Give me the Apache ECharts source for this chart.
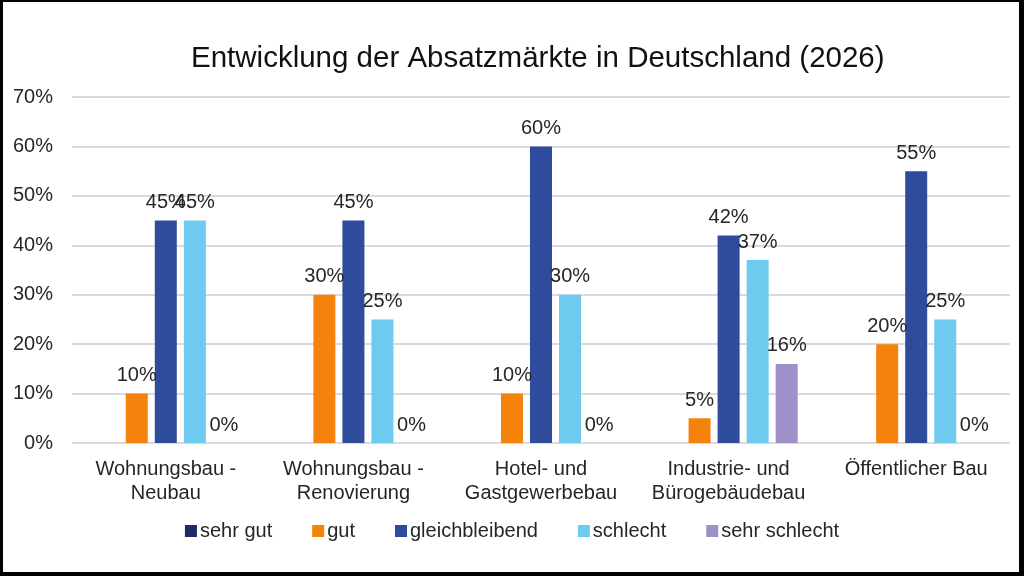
<!DOCTYPE html>
<html>
<head>
<meta charset="utf-8">
<script src="https://cdn.jsdelivr.net/npm/echarts@6/dist/echarts.min.js"></script>
<style>
    html, body { margin: 0; padding: 0; background: #fff; }
    #frame {
        width: 1024px; height: 576px; box-sizing: border-box;
        border-style: solid; border-color: #000;
        border-width: 2px 5px 4px 3px;
        position: relative;
    }
    #chart { position: absolute; left: -3px; top: -2px; width: 1024px; height: 576px; }
</style>
</head>
<body>
<div id="frame"><div id="chart"></div></div>
<script>
// Data
const categories = [
    'Wohnungsbau -\nNeubau',
    'Wohnungsbau -\nRenovierung',
    'Hotel- und\nGastgewerbebau',
    'Industrie- und\nBürogebäudebau',
    'Öffentlicher Bau'
];
const seriesNames = ['sehr gut', 'gut', 'gleichbleibend', 'schlecht', 'sehr schlecht'];
const sehrGut = [null, null, null, null, null];
const gut = [10, 30, 10, 5, 20];
const gleichbleibend = [45, 45, 60, 42, 55];
const schlecht = [45, 25, 30, 37, 25];
const sehrSchlecht = [0, 0, 0, 16, 0];
const yTicks = [0, 10, 20, 30, 40, 50, 60, 70];

const colors = ['#1F2D5E', '#F5820B', '#2F4B9B', '#6ECBEF', '#9E90C8'];
const FONT = '"Liberation Sans", Arial, sans-serif';
const TEXT = '#262626';

function makeSeries(name, data, color) {
    return {
        name: name,
        type: 'bar',
        data: data,
        barWidth: 22,
        barGap: '32%',
        itemStyle: { color: color },
        label: {
            show: true,
            position: 'top',
            distance: 8,
            formatter: '{c}%',
            fontFamily: FONT,
            fontSize: 20,
            color: TEXT
        }
    };
}

const chart = echarts.init(document.getElementById('chart'));

chart.setOption({
    animation: false,
    title: {
        text: 'Entwicklung der Absatzmärkte in Deutschland (2026)',
        left: 186,
        top: 39,
        textStyle: { fontFamily: FONT, fontSize: 29.5, fontWeight: 'normal', color: '#111' }
    },
    legend: {
        bottom: 30,
        left: 'center',
        itemWidth: 12,
        itemHeight: 12,
        itemGap: 40,
        icon: 'rect',
        textStyle: { fontFamily: FONT, fontSize: 20, color: TEXT, padding: [0, 0, 0, -2] },
        data: seriesNames
    },
    grid: { left: 72, right: 14, top: 97, bottom: 133 },
    xAxis: {
        type: 'category',
        data: categories,
        axisTick: { show: false },
        axisLine: { show: false },
        axisLabel: {
            fontFamily: FONT, fontSize: 20, color: TEXT,
            lineHeight: 24, margin: 14, interval: 0
        }
    },
    yAxis: {
        type: 'value',
        min: yTicks[0],
        max: yTicks[yTicks.length - 1],
        interval: 10,
        axisLine: { show: false },
        axisTick: { show: false },
        splitLine: { lineStyle: { color: '#D9DAE0', width: 2 } },
        axisLabel: {
            fontFamily: FONT, fontSize: 20, color: TEXT, margin: 19,
            formatter: '{value}%'
        }
    },
    series: [
        makeSeries(seriesNames[0], sehrGut, colors[0]),
        makeSeries(seriesNames[1], gut, colors[1]),
        makeSeries(seriesNames[2], gleichbleibend, colors[2]),
        makeSeries(seriesNames[3], schlecht, colors[3]),
        makeSeries(seriesNames[4], sehrSchlecht, colors[4])
    ]
});
</script>
</body>
</html>
